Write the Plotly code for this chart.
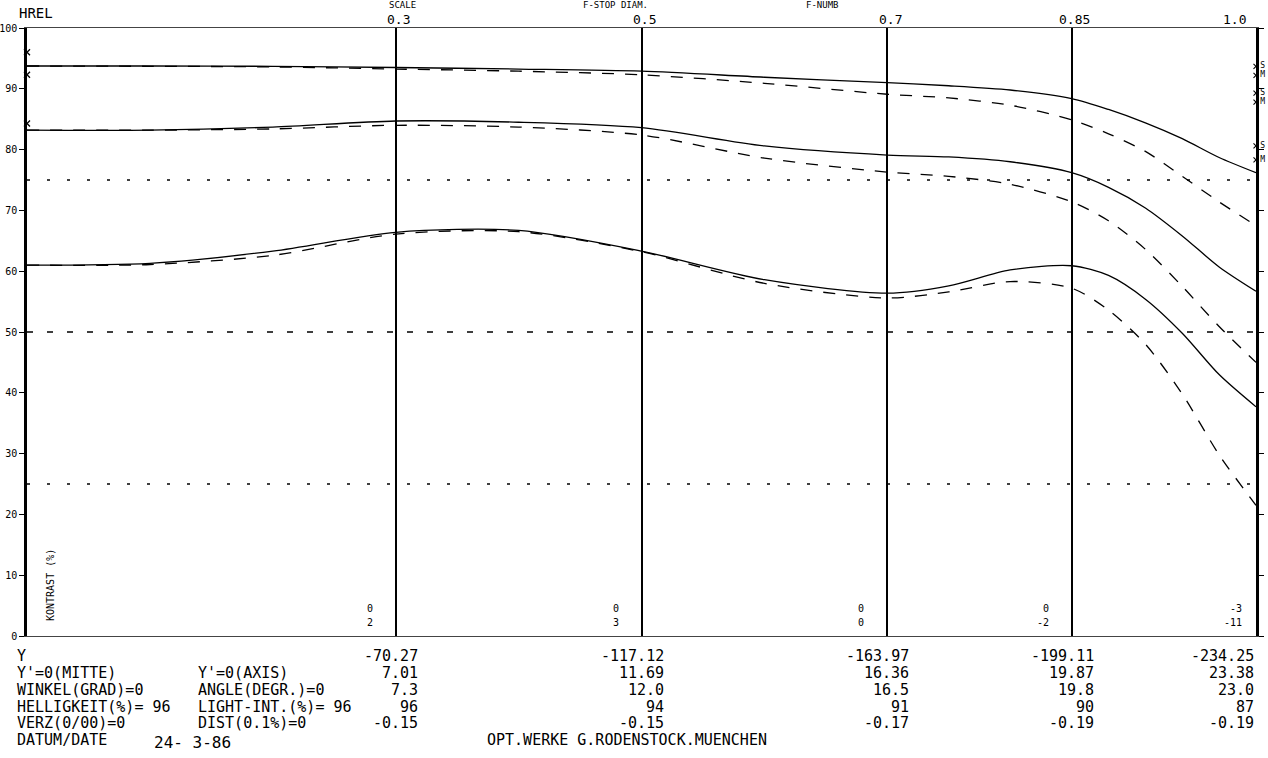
import plotly.graph_objects as go

# ---------------- data ----------------
H = [0, 0.1, 0.2, 0.3, 0.4, 0.5, 0.6, 0.7, 0.75, 0.8, 0.85, 0.88, 0.91, 0.94, 0.97, 1.0]

SOLID_1 = [93.75, 93.75, 93.7, 93.5, 93.25, 92.9, 91.9, 91.0, 90.5, 89.8, 88.4, 86.6, 84.4, 81.8, 78.7, 76.2]
DASH_1 = [93.75, 93.7, 93.6, 93.25, 92.9, 92.3, 90.9, 89.1, 88.5, 87.3, 84.9, 82.6, 79.7, 75.6, 71.4, 67.5]
SOLID_2 = [83.2, 83.2, 83.7, 84.7, 84.5, 83.6, 80.6, 79.1, 78.8, 78.0, 76.2, 73.8, 70.4, 65.8, 60.7, 56.7]
DASH_2 = [83.2, 83.2, 83.4, 84.0, 83.7, 82.4, 78.6, 76.3, 75.6, 74.3, 71.4, 68.3, 63.6, 57.5, 50.9, 45.0]
SOLID_3 = [61.0, 61.3, 63.3, 66.4, 66.7, 63.3, 58.6, 56.4, 57.6, 60.2, 60.9, 59.3, 55.4, 49.8, 43.0, 37.7]
DASH_3 = [61.0, 61.1, 62.6, 66.1, 66.5, 63.2, 58.0, 55.6, 56.6, 58.3, 57.2, 53.6, 48.0, 39.8, 29.8, 21.5]

REF_LEVELS = [75, 50, 25]
REF_DASHES = ["3px,17px", "6px,14px", "3px,17px"]

H_COLS = [0.3, 0.5, 0.7, 0.85, 1.0]
H_COL_LABELS = ["0.3", "0.5", "0.7", "0.85", "1.0"]
VAL_ROW_A = ["0", "0", "0", "0", "-3"]
VAL_ROW_B = ["2", "3", "0", "-2", "-11"]

Y_IMAGE = [-70.27, -117.12, -163.97, -199.11, -234.25]
Y_PRIME = [7.01, 11.69, 16.36, 19.87, 23.38]
ANGLE = [7.3, 12.0, 16.5, 19.8, 23.0]
LIGHT = [96, 94, 91, 90, 87]
DIST = [-0.15, -0.15, -0.17, -0.19, -0.19]

Y_TICKS = [0, 10, 20, 30, 40, 50, 60, 70, 80, 90, 100]

LEFT_MARKS = [96.0, 92.3, 84.3]
RIGHT_MARKS = [93.7, 92.2, 89.3, 87.8, 80.6, 78.3]
RIGHT_MARK_LABELS = ["S", "M", "S", "M", "S", "M"]

ROW_LABELS_DE = ["Y", "Y'=0(MITTE)", "WINKEL(GRAD)=0", "HELLIGKEIT(%)= 96", "VERZ(0/00)=0"]
ROW_LABELS_EN = ["", "Y'=0(AXIS)", "ANGLE(DEGR.)=0", "LIGHT-INT.(%)= 96", "DIST(0.1%)=0"]

FONT = "DejaVu Sans Mono"

# ---------------- layout helpers ----------------
W, HGT = 1268, 758
L, R, T, B = 27, 12, 28, 122
PW = W - L - R
PH = HGT - T - B


def px(xp):
    return (xp - L) / PW


def py(yp):
    return (HGT - B - yp) / PH


def note(text, x, y, xref="paper", xanchor="center", xshift=0, size=15, **kw):
    return dict(text=text, x=x, y=y, xref=xref, yref="paper", showarrow=False,
                xanchor=xanchor, yanchor="middle", xshift=xshift,
                font=dict(size=size), **kw)


fig = go.Figure()

for ys in (SOLID_1, SOLID_2, SOLID_3):
    fig.add_trace(go.Scatter(x=H, y=ys, mode="lines",
                             line=dict(color="black", width=1.3, shape="spline", smoothing=0.8),
                             hoverinfo="skip"))
for ys in (DASH_1, DASH_2, DASH_3):
    fig.add_trace(go.Scatter(x=H, y=ys, mode="lines",
                             line=dict(color="black", width=1.3, dash="12px,11px",
                                       shape="spline", smoothing=0.8),
                             hoverinfo="skip"))

for lv, dsh in zip(REF_LEVELS, REF_DASHES):
    fig.add_trace(go.Scatter(x=[0, 1], y=[lv, lv], mode="lines",
                             line=dict(color="black", width=1.3, dash=dsh),
                             hoverinfo="skip"))

fig.add_trace(go.Scatter(x=[0] * len(LEFT_MARKS), y=LEFT_MARKS, mode="markers",
                         marker=dict(symbol="x-thin", size=6, line=dict(color="black", width=1.3)),
                         cliponaxis=False, hoverinfo="skip"))
fig.add_trace(go.Scatter(x=[1.0] * len(RIGHT_MARKS), y=RIGHT_MARKS, mode="markers+text",
                         text=RIGHT_MARK_LABELS, textposition="middle right",
                         textfont=dict(family=FONT, size=8, color="black"),
                         marker=dict(symbol="x-thin", size=5, line=dict(color="black", width=1.1)),
                         cliponaxis=False, hoverinfo="skip"))

ann = []
# top labels
ann.append(note("HREL", px(36), py(13), size=14))
for h, lab in zip(H_COLS, H_COL_LABELS):
    last = h == H_COLS[-1]
    ann.append(note(lab, h, py(19), xref="x", xanchor="right" if last else "center",
                    xshift=-8 if last else 3, size=13))
for txt, xp_, yp_ in (("SCALE", 402, 5), ("F-STOP DIAM.", 615, 5), ("F-NUMB", 822, 5)):
    ann.append(note(txt, px(xp_), py(yp_), size=9))

ann.append(note("KONTRAST (%)", px(50), py(585), size=10, textangle=-90))

# small values near the verticals
for i, h in enumerate(H_COLS):
    last = i == len(H_COLS) - 1
    for txt, yp_ in ((VAL_ROW_A[i], 608), (VAL_ROW_B[i], 622)):
        ann.append(note(txt, h, py(yp_), xref="x", xanchor="right",
                        xshift=-12 if last else -21, size=10))

# table
ROW_Y = [656, 673, 690, 707, 723]
for lab, yp_ in zip(ROW_LABELS_DE, ROW_Y):
    ann.append(note(lab, px(15), py(yp_), xanchor="left"))
for lab, yp_ in zip(ROW_LABELS_EN, ROW_Y):
    if lab:
        ann.append(note(lab, px(196), py(yp_), xanchor="left"))

rows = [
    [f"{v:.2f}" for v in Y_IMAGE],
    [f"{v:.2f}" for v in Y_PRIME],
    [f"{v:.1f}" for v in ANGLE],
    [f"{v:d}" for v in LIGHT],
    [f"{v:.2f}" for v in DIST],
]
for row, yp_ in zip(rows, ROW_Y):
    for i, (h, txt) in enumerate(zip(H_COLS, row)):
        last = i == len(H_COLS) - 1
        ann.append(note(txt, h, py(yp_), xref="x", xanchor="right", xshift=0 if last else 24))

ann.append(note("DATUM/DATE", px(15), py(740), xanchor="left"))
ann.append(note("24- 3-86", px(152), py(742), xanchor="left", size=16))
ann.append(note("OPT.WERKE G.RODENSTOCK.MUENCHEN", px(627), py(740)))

fig.update_layout(
    width=W, height=HGT,
    margin=dict(l=L, r=R, t=T, b=B, pad=0, autoexpand=False),
    paper_bgcolor="white", plot_bgcolor="white",
    showlegend=False,
    font=dict(family=FONT, color="black"),
    annotations=ann,
    xaxis=dict(range=[0, 1], tickvals=H_COLS[:-1], showticklabels=False, ticks="",
               showgrid=True, gridcolor="black", gridwidth=1.5, automargin=False,
               showline=True, linecolor="#444", linewidth=1, mirror=True, zeroline=False),
    yaxis=dict(range=[0, 100], tickvals=Y_TICKS, ticktext=[str(t) for t in Y_TICKS],
               ticks="outside", ticklen=5, tickwidth=1.2, tickcolor="black",
               tickfont=dict(size=10, family=FONT), automargin=False,
               showline=True, linecolor="black", linewidth=2.5, mirror="ticks",
               showgrid=False, zeroline=False),
)

fig.write_html("out.html", config={"displayModeBar": False},
               post_script="document.body.style.margin='0';document.body.style.overflow='hidden';")
